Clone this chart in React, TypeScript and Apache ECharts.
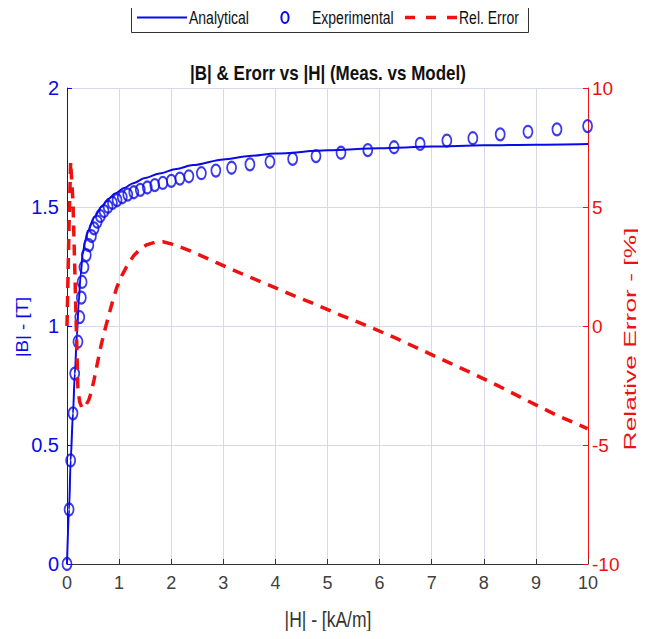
import { useEffect, useRef } from "react";
import * as echarts from "echarts";

// Measured magnetisation points: field |H| in kA/m, flux density |B| in T
const H_EXP = [0, 0.04, 0.07, 0.115, 0.148, 0.21, 0.245, 0.275, 0.29, 0.325, 0.37, 0.42, 0.47, 0.52, 0.58, 0.64, 0.711, 0.788, 0.872, 0.961, 1.061, 1.166, 1.282, 1.407, 1.541, 1.685, 1.839, 2.002, 2.166, 2.339, 2.579, 2.857, 3.159, 3.511, 3.895, 4.331, 4.779, 5.259, 5.773, 6.278, 6.778, 7.291, 7.79, 8.315, 8.847, 9.404, 9.992];
const B_EXP = [0, 0.229, 0.435, 0.633, 0.8, 0.934, 1.037, 1.119, 1.185, 1.247, 1.298, 1.34, 1.378, 1.41, 1.438, 1.462, 1.483, 1.501, 1.517, 1.529, 1.541, 1.552, 1.562, 1.572, 1.582, 1.592, 1.601, 1.61, 1.619, 1.629, 1.642, 1.653, 1.665, 1.679, 1.69, 1.702, 1.714, 1.728, 1.739, 1.751, 1.765, 1.779, 1.789, 1.805, 1.816, 1.826, 1.84];

// Analytical B-H model
const H_MODEL = [0, 0.04, 0.07, 0.115, 0.15, 0.19, 0.225, 0.26, 0.3, 0.35, 0.4, 0.53, 0.66, 0.8, 0.92, 1.1, 1.27, 1.5, 1.78, 2.1, 2.42, 3.0, 3.5, 4.0, 5.0, 6.0, 7.0, 8.0, 9.0, 10.0];
const B_MODEL = [0, 0.229, 0.435, 0.633, 0.8, 0.96, 1.1, 1.21, 1.3, 1.36, 1.4, 1.46, 1.5, 1.535, 1.557, 1.58, 1.6, 1.622, 1.641, 1.66, 1.676, 1.7, 1.714, 1.725, 1.738, 1.747, 1.754, 1.759, 1.762, 1.765];

// Relative error between model and measurement, in %
const H_ERR = [0, 0.04, 0.07, 0.115, 0.148, 0.21, 0.245, 0.29, 0.325, 0.37, 0.42, 0.47, 0.52, 0.58, 0.64, 0.71, 0.79, 0.87, 0.96, 1.06, 1.17, 1.28, 1.41, 1.54, 1.69, 1.84, 2.0, 2.17, 2.34, 2.58, 2.86, 3.16, 3.51, 3.9, 4.33, 4.78, 5.26, 5.77, 6.28, 6.78, 7.29, 7.79, 8.31, 8.85, 9.4, 9.99];
const ERR = [0, 4.3, 6.9, 5.2, 2.5, -2.7, -3.2, -3.45, -3.45, -3.3, -3.1, -2.75, -2.25, -1.6, -0.95, -0.3, 0.35, 1.0, 1.65, 2.15, 2.6, 2.95, 3.25, 3.42, 3.52, 3.54, 3.45, 3.32, 3.18, 2.95, 2.67, 2.38, 2.05, 1.7, 1.3, 0.9, 0.45, 0.0, -0.48, -0.98, -1.5, -2.0, -2.55, -3.15, -3.75, -4.31];

// Axis ranges and tick steps
const H_RANGE = [0, 10];
const H_STEP = 1;
const B_RANGE = [0, 2];
const B_STEP = 0.5;
const ERR_RANGE = [-10, 10];
const ERR_STEP = 5;

const SERIES_NAMES = ["Analytical", "Experimental", "Rel. Error"];
const TITLE = "|B| & Erorr vs |H| (Meas. vs Model)";
const X_NAME = "|H| - [kA/m]";
const Y_NAME = "|B| - [T]";
const Y2_NAME = "Relative Error - [%]";

const FONT = "'Liberation Sans', Arial, sans-serif";
const BLUE = "#0a0ae6";
const RED = "#ee1111";
const GRID = "#d8d8ec";
const AXIS_GRAY = "#333333";
const TEXT = "#111111";
const RING = "path://M0,-4A3,4 0 1 1 0,4A3,4 0 1 1 0,-4Z";
const RED_DASH = [11, 8];

const zip = (xs: number[], ys: number[]) => xs.map((x, i) => [x, ys[i]]);

// Text stretched vertically (tall, condensed lettering)
const tallText = (
  text: string,
  x: number,
  y: number,
  size: number,
  fill: string,
  align: string,
  stretch: number,
  bold = false
) => ({
  type: "text",
  x,
  y,
  scaleY: stretch,
  style: {
    text,
    fontFamily: FONT,
    fontSize: size,
    fontWeight: bold ? "bold" : "normal",
    fill,
    align,
    verticalAlign: "middle",
  },
});

// Rotated axis title, reading bottom to top
const sideText = (text: string, x: number, y: number, size: number, fill: string, stretch: number) => ({
  type: "text",
  x,
  y,
  rotation: Math.PI / 2,
  scaleX: stretch,
  style: {
    text,
    fontFamily: FONT,
    fontSize: size,
    fill,
    align: "center",
    verticalAlign: "middle",
  },
});

export default function App() {
  const ref = useRef<HTMLDivElement>(null);

  useEffect(() => {
    if (!ref.current) return;
    const chart = echarts.init(ref.current, null, { renderer: "svg" });

    const legendBox = {
      type: "group",
      children: [
        {
          type: "rect",
          shape: { x: 131.5, y: 2.5, width: 397, height: 30 },
          style: { fill: "#ffffff", stroke: "#333333", lineWidth: 1 },
        },
        {
          type: "line",
          shape: { x1: 137, y1: 17.5, x2: 187, y2: 17.5 },
          style: { stroke: BLUE, lineWidth: 2 },
        },
        tallText(SERIES_NAMES[0], 189, 17.5, 14, TEXT, "left", 1.35),
        {
          type: "ellipse",
          shape: { cx: 285, cy: 17.5, rx: 3.6, ry: 5.6 },
          style: { fill: "none", stroke: BLUE, lineWidth: 2 },
        },
        tallText(SERIES_NAMES[1], 312, 17.5, 14, TEXT, "left", 1.35),
        {
          type: "line",
          shape: { x1: 405, y1: 17.5, x2: 457, y2: 17.5 },
          style: { stroke: RED, lineWidth: 3.5, lineDash: [10, 11] },
        },
        tallText(SERIES_NAMES[2], 459, 17.5, 14, TEXT, "left", 1.35),
      ],
    };

    chart.setOption({
      animation: false,
      backgroundColor: "#ffffff",
      textStyle: { fontFamily: FONT },
      grid: { left: 67, right: 58, top: 88, bottom: 75 },
      xAxis: {
        type: "value",
        min: H_RANGE[0],
        max: H_RANGE[1],
        interval: H_STEP,
        axisLine: { lineStyle: { color: AXIS_GRAY, width: 1 } },
        axisTick: { inside: true, length: 5, lineStyle: { color: AXIS_GRAY } },
        axisLabel: { fontFamily: FONT, fontSize: 18, color: "#404040", margin: 10 },
        splitLine: { show: true, lineStyle: { color: GRID, width: 1 } },
      },
      yAxis: [
        {
          type: "value",
          min: B_RANGE[0],
          max: B_RANGE[1],
          interval: B_STEP,
          position: "left",
          axisLine: { show: true, lineStyle: { color: BLUE, width: 1 } },
          axisTick: { show: true, inside: true, length: 5, lineStyle: { color: BLUE } },
          axisLabel: { fontFamily: FONT, fontSize: 20, color: BLUE, margin: 8 },
          splitLine: { show: true, lineStyle: { color: GRID, width: 1 } },
        },
        {
          type: "value",
          min: ERR_RANGE[0],
          max: ERR_RANGE[1],
          interval: ERR_STEP,
          position: "right",
          axisLine: { show: true, lineStyle: { color: RED, width: 1 } },
          axisTick: { show: true, inside: true, length: 5, lineStyle: { color: RED } },
          axisLabel: { fontFamily: FONT, fontSize: 19, color: RED, margin: 4 },
          splitLine: { show: false },
        },
      ],
      graphic: [
        tallText(TITLE, 328, 73, 17, TEXT, "center", 1.2, true),
        legendBox,
        tallText(X_NAME, 328, 619, 17.5, "#333333", "center", 1.3),
        sideText(Y_NAME, 22, 327, 17, BLUE, 1.1),
        sideText(Y2_NAME, 630, 339, 16.5, RED, 1.6),
      ],
      series: [
        {
          name: SERIES_NAMES[0],
          type: "line",
          yAxisIndex: 0,
          data: zip(H_MODEL, B_MODEL),
          showSymbol: false,
          symbol: "none",
          smooth: 0.3,
          smoothMonotone: "x",
          lineStyle: { color: BLUE, width: 2 },
          itemStyle: { color: BLUE },
          z: 2,
        },
        {
          name: SERIES_NAMES[1],
          type: "scatter",
          yAxisIndex: 0,
          data: zip(H_EXP, B_EXP),
          symbol: RING,
          symbolSize: [9, 12],
          itemStyle: { color: "rgba(0,0,0,0)", borderColor: BLUE, borderWidth: 2 },
          z: 3,
        },
        {
          name: SERIES_NAMES[2],
          type: "line",
          yAxisIndex: 1,
          data: zip(H_ERR, ERR),
          showSymbol: false,
          symbol: "none",
          lineStyle: { color: RED, width: 3.5, type: RED_DASH },
          itemStyle: { color: RED },
          z: 4,
        },
      ],
    });
    return () => chart.dispose();
  }, []);

  return <div ref={ref} style={{ width: 646, height: 639, margin: -8 }} />;
}
